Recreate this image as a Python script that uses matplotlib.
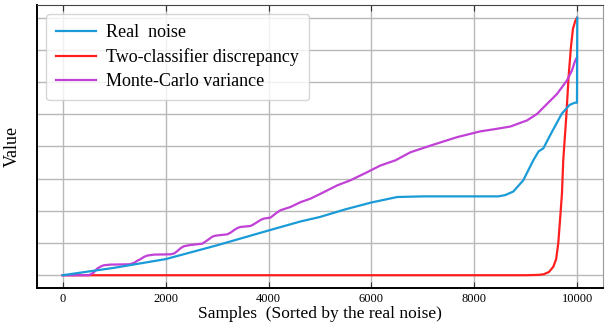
import matplotlib
matplotlib.use("Agg")
import matplotlib.pyplot as plt

plt.rcParams["font.family"] = ["Liberation Serif", "DejaVu Serif"]

# values (y in grid units, one grid line per unit)
real_x = [0, 1000, 2000, 3000, 4000, 4621, 5000, 5500, 6000, 6500, 7000, 8000,
          8466, 8600, 8757, 8951, 9146, 9250, 9340, 9500, 9700, 9850, 9950, 9995, 10000]
real_y = [0, 0.23, 0.5, 0.93, 1.39, 1.67, 1.81, 2.05, 2.26, 2.43, 2.45, 2.45,
          2.45, 2.49, 2.6, 2.95, 3.57, 3.85, 3.94, 4.43, 5.02, 5.29, 5.36, 5.36, 8.0]

disc_x = [0, 9000, 9250, 9350, 9450, 9534, 9590, 9631, 9670, 9703, 9728, 9786, 9831,
          9877, 9916, 9961, 9994]
disc_y = [0, 0, 0.01, 0.03, 0.1, 0.26, 0.5, 0.99, 1.81, 2.54, 3.57, 4.91, 6.15,
          7.08, 7.65, 7.9, 8.0]

mc_x = [0, 511, 600, 673, 750, 802, 932, 1300, 1385, 1450, 1515, 1580, 1644, 1773,
        2100, 2170, 2227, 2300, 2356, 2485, 2712, 2780, 2841, 2910, 2971, 3198,
        3270, 3327, 3400, 3456, 3650, 3720, 3780, 3850, 3909, 4039, 4140, 4233,
        4427, 4621, 4816, 5010, 5333, 5592, 5916, 6175, 6466, 6757, 7210, 7664,
        8116, 8400, 8699, 9023, 9217, 9411, 9605, 9799, 9896, 9961, 9994]
mc_y = [0, 0, 0.08, 0.21, 0.28, 0.31, 0.33, 0.34, 0.38, 0.45, 0.5, 0.57, 0.61, 0.64,
        0.65, 0.68, 0.75, 0.85, 0.9, 0.94, 0.98, 1.05, 1.12, 1.2, 1.23, 1.27,
        1.33, 1.4, 1.47, 1.5, 1.53, 1.59, 1.65, 1.72, 1.76, 1.79, 1.92, 2.02,
        2.12, 2.27, 2.38, 2.53, 2.79, 2.95, 3.2, 3.41, 3.57, 3.82, 4.06, 4.29,
        4.47, 4.54, 4.62, 4.81, 5.01, 5.32, 5.63, 6.05, 6.36, 6.67, 6.77]

fig = plt.figure(figsize=(6.06, 3.27), dpi=100)
ax = fig.add_axes([0.061, 0.119, 0.934, 0.866])

ax.plot(real_x, real_y, color="#1a9bd7", lw=1.6, label="Real  noise", zorder=3)
ax.plot(disc_x, disc_y, color="#ff1f1f", lw=1.6, label="Two-classifier discrepancy", zorder=2)
ax.plot(mc_x, mc_y, color="#c140d6", lw=1.6, label="Monte-Carlo variance", zorder=2)

ax.set_xticks([0, 2000, 4000, 6000, 8000, 10000])
ax.set_yticks(range(0, 9))
ax.set_yticklabels([])
ax.grid(True, color="#b8b8b8", lw=1.0)
ax.set_axisbelow(True)
ax.tick_params(axis="x", direction="in", top=True, labelsize=9, length=4, color="#333333")
ax.tick_params(axis="y", length=0)

for side in ["left", "bottom"]:
    ax.spines[side].set_linewidth(1.4)
    ax.spines[side].set_color("black")
ax.spines["top"].set_color("#444444")
ax.spines["right"].set_color("#999999")

ax.set_xlabel("Samples  (Sorted by the real noise)", fontsize=12.5, labelpad=1)
ax.set_ylabel("Value", fontsize=13, labelpad=8)

ax.legend(loc="upper left", fontsize=13, handlelength=2.2, handletextpad=0.6,
          borderaxespad=0.5, labelspacing=0.4, borderpad=0.55, frameon=True)

plt.savefig("out.png", dpi=100)
